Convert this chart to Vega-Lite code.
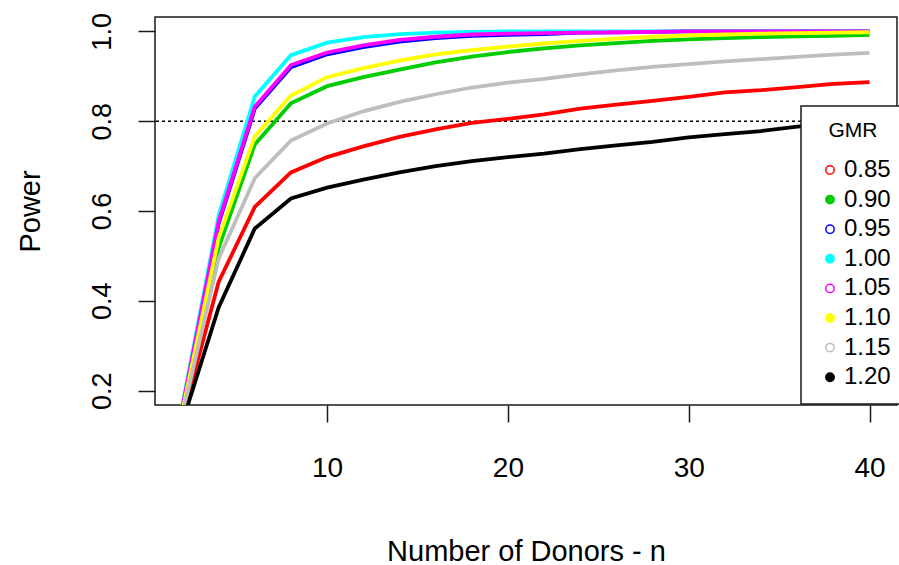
{
  "$schema": "https://vega.github.io/schema/vega-lite/v6.json",
  "width": 742,
  "height": 388,
  "autosize": "none",
  "padding": {"left": 155, "top": 17, "right": 2, "bottom": 160},
  "background": "white",
  "config": {
    "font": "Liberation Sans",
    "view": {"stroke": "#1a1a1a", "strokeWidth": 1.5},
    "axis": {
      "domain": false,
      "grid": false,
      "tickColor": "#1a1a1a",
      "tickWidth": 1.5,
      "tickSize": 17,
      "labelColor": "black",
      "titleColor": "black",
      "labelFont": "Liberation Sans",
      "titleFont": "Liberation Sans",
      "titleFontWeight": "normal",
      "labelFontSize": 27,
      "titleFontSize": 29
    }
  },
  "data": {
    "values": [
      {"n": 2, "GMR": "0.85", "power": 0.14}, {"n": 4, "GMR": "0.85", "power": 0.442}, {"n": 6, "GMR": "0.85", "power": 0.609}, {"n": 8, "GMR": "0.85", "power": 0.686}, {"n": 10, "GMR": "0.85", "power": 0.72}, {"n": 12, "GMR": "0.85", "power": 0.744}, {"n": 14, "GMR": "0.85", "power": 0.765}, {"n": 16, "GMR": "0.85", "power": 0.782}, {"n": 18, "GMR": "0.85", "power": 0.796}, {"n": 20, "GMR": "0.85", "power": 0.805}, {"n": 22, "GMR": "0.85", "power": 0.815}, {"n": 24, "GMR": "0.85", "power": 0.828}, {"n": 26, "GMR": "0.85", "power": 0.837}, {"n": 28, "GMR": "0.85", "power": 0.845}, {"n": 30, "GMR": "0.85", "power": 0.854}, {"n": 32, "GMR": "0.85", "power": 0.864}, {"n": 34, "GMR": "0.85", "power": 0.869}, {"n": 36, "GMR": "0.85", "power": 0.876}, {"n": 38, "GMR": "0.85", "power": 0.883}, {"n": 40, "GMR": "0.85", "power": 0.887},
      {"n": 2, "GMR": "0.90", "power": 0.152}, {"n": 4, "GMR": "0.90", "power": 0.518}, {"n": 6, "GMR": "0.90", "power": 0.748}, {"n": 8, "GMR": "0.90", "power": 0.84}, {"n": 10, "GMR": "0.90", "power": 0.878}, {"n": 12, "GMR": "0.90", "power": 0.898}, {"n": 14, "GMR": "0.90", "power": 0.915}, {"n": 16, "GMR": "0.90", "power": 0.931}, {"n": 18, "GMR": "0.90", "power": 0.944}, {"n": 20, "GMR": "0.90", "power": 0.954}, {"n": 22, "GMR": "0.90", "power": 0.962}, {"n": 24, "GMR": "0.90", "power": 0.969}, {"n": 26, "GMR": "0.90", "power": 0.974}, {"n": 28, "GMR": "0.90", "power": 0.979}, {"n": 30, "GMR": "0.90", "power": 0.982}, {"n": 32, "GMR": "0.90", "power": 0.985}, {"n": 34, "GMR": "0.90", "power": 0.987}, {"n": 36, "GMR": "0.90", "power": 0.989}, {"n": 38, "GMR": "0.90", "power": 0.99}, {"n": 40, "GMR": "0.90", "power": 0.992},
      {"n": 2, "GMR": "0.95", "power": 0.16}, {"n": 4, "GMR": "0.95", "power": 0.572}, {"n": 6, "GMR": "0.95", "power": 0.828}, {"n": 8, "GMR": "0.95", "power": 0.92}, {"n": 10, "GMR": "0.95", "power": 0.949}, {"n": 12, "GMR": "0.95", "power": 0.965}, {"n": 14, "GMR": "0.95", "power": 0.977}, {"n": 16, "GMR": "0.95", "power": 0.985}, {"n": 18, "GMR": "0.95", "power": 0.99}, {"n": 20, "GMR": "0.95", "power": 0.992}, {"n": 22, "GMR": "0.95", "power": 0.994}, {"n": 24, "GMR": "0.95", "power": 0.997}, {"n": 26, "GMR": "0.95", "power": 0.998}, {"n": 28, "GMR": "0.95", "power": 0.999}, {"n": 30, "GMR": "0.95", "power": 1.0}, {"n": 32, "GMR": "0.95", "power": 1.0}, {"n": 34, "GMR": "0.95", "power": 1.0}, {"n": 36, "GMR": "0.95", "power": 1.0}, {"n": 38, "GMR": "0.95", "power": 1.0}, {"n": 40, "GMR": "0.95", "power": 1.0},
      {"n": 2, "GMR": "1.00", "power": 0.168}, {"n": 4, "GMR": "1.00", "power": 0.59}, {"n": 6, "GMR": "1.00", "power": 0.855}, {"n": 8, "GMR": "1.00", "power": 0.947}, {"n": 10, "GMR": "1.00", "power": 0.975}, {"n": 12, "GMR": "1.00", "power": 0.987}, {"n": 14, "GMR": "1.00", "power": 0.994}, {"n": 16, "GMR": "1.00", "power": 0.997}, {"n": 18, "GMR": "1.00", "power": 0.999}, {"n": 20, "GMR": "1.00", "power": 1.0}, {"n": 22, "GMR": "1.00", "power": 1.0}, {"n": 24, "GMR": "1.00", "power": 1.0}, {"n": 26, "GMR": "1.00", "power": 1.0}, {"n": 28, "GMR": "1.00", "power": 1.0}, {"n": 30, "GMR": "1.00", "power": 1.0}, {"n": 32, "GMR": "1.00", "power": 1.0}, {"n": 34, "GMR": "1.00", "power": 1.0}, {"n": 36, "GMR": "1.00", "power": 1.0}, {"n": 38, "GMR": "1.00", "power": 1.0}, {"n": 40, "GMR": "1.00", "power": 1.0},
      {"n": 2, "GMR": "1.05", "power": 0.163}, {"n": 4, "GMR": "1.05", "power": 0.576}, {"n": 6, "GMR": "1.05", "power": 0.832}, {"n": 8, "GMR": "1.05", "power": 0.925}, {"n": 10, "GMR": "1.05", "power": 0.953}, {"n": 12, "GMR": "1.05", "power": 0.969}, {"n": 14, "GMR": "1.05", "power": 0.981}, {"n": 16, "GMR": "1.05", "power": 0.988}, {"n": 18, "GMR": "1.05", "power": 0.993}, {"n": 20, "GMR": "1.05", "power": 0.995}, {"n": 22, "GMR": "1.05", "power": 0.996}, {"n": 24, "GMR": "1.05", "power": 0.997}, {"n": 26, "GMR": "1.05", "power": 0.998}, {"n": 28, "GMR": "1.05", "power": 0.999}, {"n": 30, "GMR": "1.05", "power": 1.0}, {"n": 32, "GMR": "1.05", "power": 1.0}, {"n": 34, "GMR": "1.05", "power": 1.0}, {"n": 36, "GMR": "1.05", "power": 1.0}, {"n": 38, "GMR": "1.05", "power": 1.0}, {"n": 40, "GMR": "1.05", "power": 1.0},
      {"n": 2, "GMR": "1.10", "power": 0.155}, {"n": 4, "GMR": "1.10", "power": 0.54}, {"n": 6, "GMR": "1.10", "power": 0.766}, {"n": 8, "GMR": "1.10", "power": 0.857}, {"n": 10, "GMR": "1.10", "power": 0.898}, {"n": 12, "GMR": "1.10", "power": 0.918}, {"n": 14, "GMR": "1.10", "power": 0.935}, {"n": 16, "GMR": "1.10", "power": 0.949}, {"n": 18, "GMR": "1.10", "power": 0.958}, {"n": 20, "GMR": "1.10", "power": 0.966}, {"n": 22, "GMR": "1.10", "power": 0.973}, {"n": 24, "GMR": "1.10", "power": 0.979}, {"n": 26, "GMR": "1.10", "power": 0.984}, {"n": 28, "GMR": "1.10", "power": 0.988}, {"n": 30, "GMR": "1.10", "power": 0.991}, {"n": 32, "GMR": "1.10", "power": 0.993}, {"n": 34, "GMR": "1.10", "power": 0.995}, {"n": 36, "GMR": "1.10", "power": 0.996}, {"n": 38, "GMR": "1.10", "power": 0.997}, {"n": 40, "GMR": "1.10", "power": 0.998},
      {"n": 2, "GMR": "1.15", "power": 0.147}, {"n": 4, "GMR": "1.15", "power": 0.494}, {"n": 6, "GMR": "1.15", "power": 0.673}, {"n": 8, "GMR": "1.15", "power": 0.757}, {"n": 10, "GMR": "1.15", "power": 0.795}, {"n": 12, "GMR": "1.15", "power": 0.822}, {"n": 14, "GMR": "1.15", "power": 0.843}, {"n": 16, "GMR": "1.15", "power": 0.86}, {"n": 18, "GMR": "1.15", "power": 0.875}, {"n": 20, "GMR": "1.15", "power": 0.886}, {"n": 22, "GMR": "1.15", "power": 0.894}, {"n": 24, "GMR": "1.15", "power": 0.904}, {"n": 26, "GMR": "1.15", "power": 0.913}, {"n": 28, "GMR": "1.15", "power": 0.921}, {"n": 30, "GMR": "1.15", "power": 0.927}, {"n": 32, "GMR": "1.15", "power": 0.933}, {"n": 34, "GMR": "1.15", "power": 0.938}, {"n": 36, "GMR": "1.15", "power": 0.943}, {"n": 38, "GMR": "1.15", "power": 0.948}, {"n": 40, "GMR": "1.15", "power": 0.952},
      {"n": 2, "GMR": "1.20", "power": 0.13}, {"n": 4, "GMR": "1.20", "power": 0.385}, {"n": 6, "GMR": "1.20", "power": 0.561}, {"n": 8, "GMR": "1.20", "power": 0.628}, {"n": 10, "GMR": "1.20", "power": 0.652}, {"n": 12, "GMR": "1.20", "power": 0.67}, {"n": 14, "GMR": "1.20", "power": 0.686}, {"n": 16, "GMR": "1.20", "power": 0.7}, {"n": 18, "GMR": "1.20", "power": 0.711}, {"n": 20, "GMR": "1.20", "power": 0.72}, {"n": 22, "GMR": "1.20", "power": 0.728}, {"n": 24, "GMR": "1.20", "power": 0.738}, {"n": 26, "GMR": "1.20", "power": 0.746}, {"n": 28, "GMR": "1.20", "power": 0.754}, {"n": 30, "GMR": "1.20", "power": 0.764}, {"n": 32, "GMR": "1.20", "power": 0.771}, {"n": 34, "GMR": "1.20", "power": 0.778}, {"n": 36, "GMR": "1.20", "power": 0.788}, {"n": 38, "GMR": "1.20", "power": 0.793}, {"n": 40, "GMR": "1.20", "power": 0.798}
    ]
  },
  "layer": [
    {
      "data": {"values": [{"target": 0.8}]},
      "mark": {"type": "rule", "strokeDash": [3, 3], "strokeWidth": 1.5, "color": "black"},
      "encoding": {
        "y": {"field": "target", "type": "quantitative", "scale": {"domain": [0.168, 1.032], "nice": false, "zero": false}}
      }
    },
    {
      "mark": {"type": "line", "strokeWidth": 3.8, "clip": true},
      "encoding": {
        "x": {
          "field": "n", "type": "quantitative",
          "scale": {"domain": [0.48, 41.52], "nice": false, "zero": false},
          "axis": {"values": [10, 20, 30, 40], "title": "Number of Donors - n", "labelBaseline": "alphabetic", "labelPadding": 54, "labelFontSize": 28, "titleX": 371, "titleY": 155, "titleBaseline": "alphabetic"}
        },
        "y": {
          "field": "power", "type": "quantitative",
          "scale": {"domain": [0.168, 1.032], "nice": false, "zero": false},
          "axis": {"values": [0.2, 0.4, 0.6, 0.8, 1.0], "format": ".1f", "title": "Power", "labelAngle": -90, "labelAlign": "center", "labelBaseline": "alphabetic", "labelPadding": 28, "titleAngle": -90, "titleX": -116, "titleY": 194, "titleAlign": "center", "titleBaseline": "alphabetic"}
        },
        "color": {
          "field": "GMR", "type": "nominal",
          "scale": {"domain": ["0.85", "0.90", "0.95", "1.00", "1.05", "1.10", "1.15", "1.20"], "range": ["#ff0000", "#00cd00", "#0000ff", "#00ffff", "#ff00ff", "#ffff00", "#bebebe", "#000000"]},
          "legend": {
            "title": "GMR", "orient": "none", "legendX": 646, "legendY": 89,
            "fillColor": "white", "strokeColor": "#1a1a1a", "padding": 14, "cornerRadius": 0,
            "titleFontSize": 21, "titleFontWeight": "normal", "titleColor": "black", "titleAnchor": "middle", "titlePadding": 17,
            "labelFontSize": 24, "labelColor": "black", "labelOffset": 2,
            "symbolType": "circle", "symbolSize": 70, "symbolStrokeWidth": 1.5, "symbolOpacity": 1, "symbolOffset": 3,
            "rowPadding": 5.6,
            "encode": {
              "legend": {"update": {"strokeWidth": {"value": 1.5}}},
              "symbols": {"update": {
                "shape": {"value": "circle"},
                "stroke": {"scale": "color", "field": "value"},
                "strokeWidth": {"value": 1.5},
                "opacity": {"value": 1},
                "fill": {"signal": "indexof(['0.85','0.95','1.05','1.15'], datum.value) >= 0 ? 'white' : scale('color', datum.value)"}
              }}
            }
          }
        }
      }
    }
  ]
}
